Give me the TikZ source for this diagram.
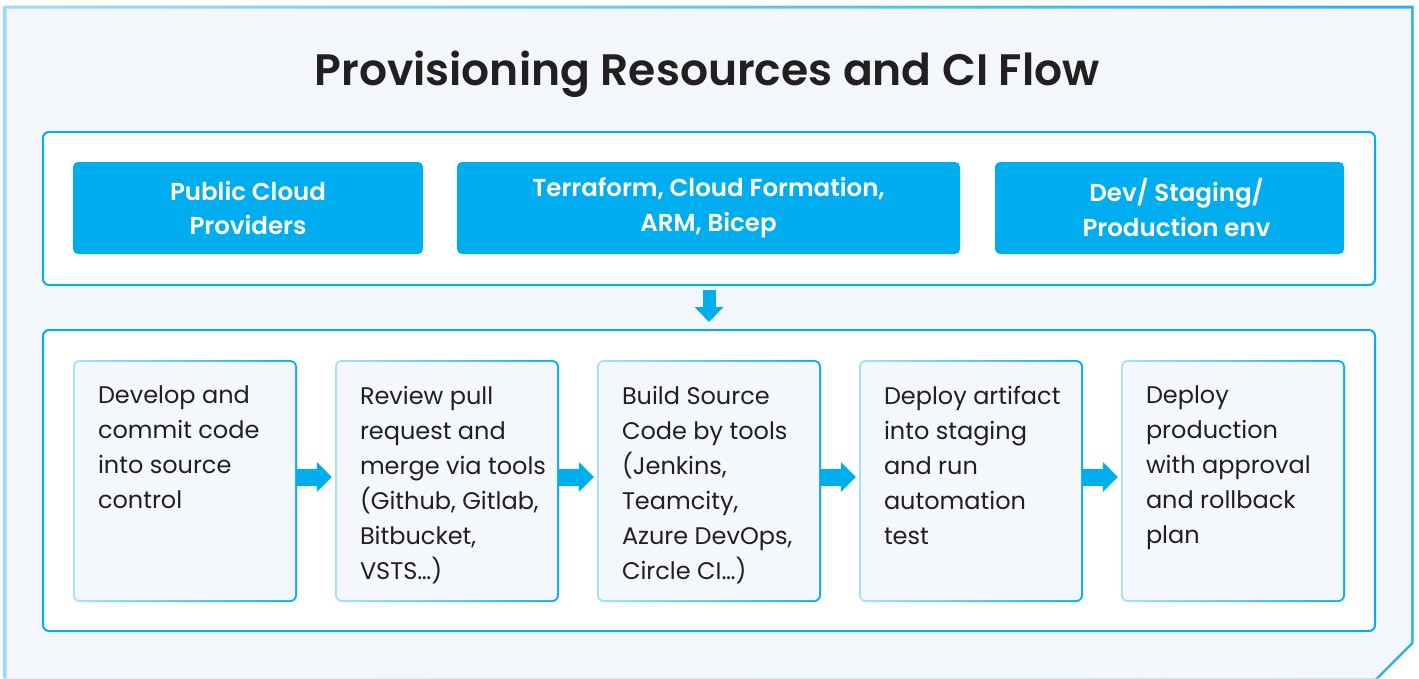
\documentclass[tikz,border=0pt]{standalone}
\usepackage{fontspec}
\setmainfont{Poppins}[BoldFont={Poppins SemiBold}]
\usetikzlibrary{arrows.meta,calc}
\definecolor{brand}{HTML}{00AEEF}
\definecolor{pagebg}{HTML}{F3F7FC}
\definecolor{inbg}{HTML}{F4F8FC}
\definecolor{ink}{HTML}{231F20}
\definecolor{framel}{HTML}{9ADCF7}
\definecolor{framer}{HTML}{27B2EA}
\definecolor{boxl}{HTML}{A3E0F8}
\tikzset{
  container/.style={draw=brand, line width=2pt, fill=white, rounded corners=6pt,
    minimum width=1332pt, inner sep=0pt},
  topbox/.style={fill=brand, rounded corners=5pt, minimum height=92pt, inner sep=0pt,
    text=white, align=center, font=\bfseries\fontsize{24.5}{35}\selectfont},
  inbox/.style={left color=boxl, right color=brand, rounded corners=7pt,
    minimum width=224pt, minimum height=242pt, inner sep=0pt},
  intext/.style={anchor=north west, inner sep=0pt, align=left, text=ink,
    font=\fontsize{24}{35}\selectfont},
  flow/.style={draw=brand, line width=17pt, -{Triangle[width=29pt,length=15pt]},
    shorten >=3pt},
  downflow/.style={draw=brand, line width=13pt, -{Triangle[width=28pt,length=15pt]},
    shorten <=4pt, shorten >=7pt}
}
\begin{document}
\begin{tikzpicture}[x=1pt,y=-1pt]
\useasboundingbox (0,0) rectangle (1419,678);
\fill[white] (0,0) rectangle (1419,678);
% outer frame with chamfered corner
\shade[left color=framel, right color=framer]
  (3.5,678) -- (3.5,5.5) -- (1413.5,5.5) -- (1413.5,643.5) -- (1378.5,678.5) -- (3.5,678.5) -- cycle;
\fill[pagebg]
  (6.5,678.5) -- (6.5,8.5) -- (1411,8.5) -- (1411,642.5) -- (1375,678.5) -- cycle;
% title
\node[anchor=base, text=ink, font=\bfseries\fontsize{44}{50}\selectfont] (title) at (707,85)
  {Provisioning Resources and CI Flow};
% containers
\node[container, minimum height=153pt] (top) at (709,208.5) {};
\node[container, minimum height=301pt] (bottom) at (709,480.5) {};
% top row
\node[topbox, minimum width=350pt] (p1) at (248,208) {Public Cloud\\Providers};
\node[topbox, minimum width=503pt] (p2) at (708.5,208) {Terraform, Cloud Formation,\\ARM, Bicep};
\node[topbox, minimum width=349pt] (p3) at (1169.5,208) {\hspace*{14pt}Dev/ Staging/\\\hspace*{14pt}Production env};
% bottom row boxes
\foreach \i/\x in {1/185,2/447,3/709,4/971,5/1233}{
  \node[inbox] (b\i) at (\x,481) {};
  \fill[inbg, rounded corners=5pt] ($(b\i.north west)+(2,2)$) rectangle ($(b\i.south east)+(-2,-2)$);
}
\node[intext] (t1) at ($(b1.north west)+(25,26)$) {Develop and\\commit code\\into source\\control};
\node[intext] (t2) at ($(b2.north west)+(25,26)$) {Review pull\\request and\\merge via tools\\(Github, Gitlab,\\Bitbucket,\\VSTS…)};
\node[intext] (t3) at ($(b3.north west)+(25,26)$) {Build Source\\Code by tools\\(Jenkins,\\Teamcity,\\Azure DevOps,\\Circle CI…)};
\node[intext] (t4) at ($(b4.north west)+(25,26)$) {Deploy artifact\\into staging\\and run\\automation\\test};
\node[intext] (t5) at ($(b5.north west)+(25,26)$) {Deploy\\production\\with approval\\and rollback\\plan};
% connectors
\draw[downflow] (top.south) -- (bottom.north);
\foreach \a/\b in {1/2,2/3,3/4,4/5}{
  \draw[flow] ($(b\a.east)+(0,-4)$) -- ($(b\b.west)+(0,-4)$);
}
\end{tikzpicture}
\end{document}
